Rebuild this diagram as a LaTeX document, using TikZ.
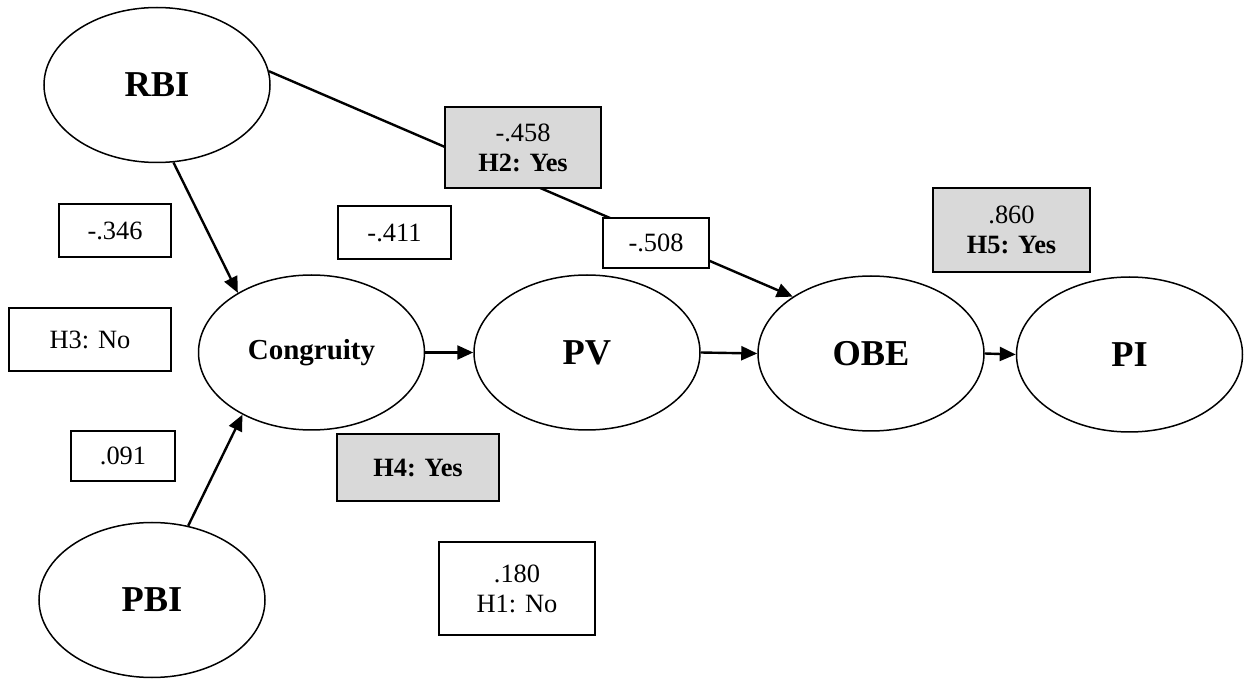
\documentclass[tikz,border=0pt]{standalone}
\usepackage{fontspec}
\setmainfont{Liberation Serif}
\usetikzlibrary{shapes.geometric,arrows.meta}
\begin{document}
\begin{tikzpicture}[x=0.5pt,y=-0.5pt,
		construct/.style={ellipse,draw,line width=0.75pt,fill=white,minimum width=113pt,minimum height=77.5pt,inner sep=0pt,font=\fontsize{18.2}{20}\selectfont\bfseries},
		effect/.style={line width=1.2pt,-{Triangle[length=8pt,width=7pt]}},
		coef/.style={rectangle,draw,line width=1pt,fill=white,inner sep=0pt,align=center,font=\fontsize{13.2}{15}\selectfont},
		supported/.style={coef,fill=gray!30}]
	\useasboundingbox (0,0) rectangle (1244,679);
	\node[construct] (RBI) at (157,85) {RBI};
	\node[construct] (PBI) at (152,600) {PBI};
	\node[construct,font=\fontsize{14.5}{16}\selectfont\bfseries] (Congruity) at (311.5,352.5) {Congruity};
	\node[construct] (PV) at (587,352.5) {PV};
	\node[construct] (OBE) at (871,353.5) {OBE};
	\node[construct] (PI) at (1129.5,354.5) {PI};
	\draw[effect] (RBI.282) -- (Congruity.141);
	\draw[effect] (PBI.64) -- (Congruity.222);
	\draw[effect] (RBI.7) -- (OBE.144);
	\draw[effect] (Congruity.east) -- (PV.west);
	\draw[effect] (PV.east) -- (OBE.west);
	\draw[effect] (OBE.east) -- (PI.west);
	\node[supported,minimum width=78pt,minimum height=40.5pt] (H2) at (523,147.5) {-.458\\\textbf{H2: Yes}};
	\node[coef,minimum width=56pt,minimum height=26.5pt] (RBIcong) at (115,230.5) {-.346};
	\node[coef,minimum width=56.5pt,minimum height=26.5pt] (PVobe) at (394.5,232.5) {-.411};
	\node[coef,minimum width=53pt,minimum height=25pt] (RBIobe) at (656,243) {-.508};
	\node[supported,minimum width=78.5pt,minimum height=42pt] (H5) at (1011.5,230) {.860\\\textbf{H5: Yes}};
	\node[coef,minimum width=81pt,minimum height=31.5pt] (H3) at (90,339.5) {H3: No};
	\node[coef,minimum width=52pt,minimum height=25pt] (PBIcong) at (123,456) {.091};
	\node[supported,minimum width=81pt,minimum height=33.5pt] (H4) at (418,467.5) {\textbf{H4: Yes}};
	\node[coef,minimum width=78pt,minimum height=46.5pt] (H1) at (517,588.5) {.180\\H1: No};
\end{tikzpicture}
\end{document}
